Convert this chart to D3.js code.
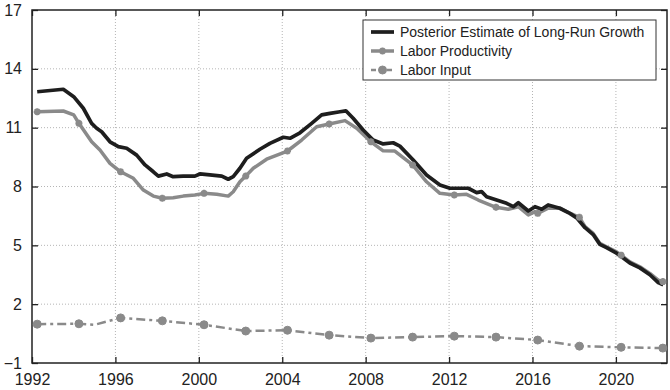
<!DOCTYPE html>
<html>
<head>
<meta charset="utf-8">
<script src="https://cdn.jsdelivr.net/npm/d3@7"></script>
<style>
  body { margin: 0; background: #fff; }
  text { font-family: "Liberation Sans", Arial, sans-serif; }
</style>
</head>
<body>
<svg id="chart" width="670" height="390"></svg>
<script>
// values: [year, percent]
const longRunGrowth = [
  [1992.25, 12.83], [1993.5, 12.96], [1994.0, 12.58], [1994.46, 11.99], [1994.86, 11.22],
  [1995.1, 10.97], [1995.34, 10.79], [1995.74, 10.28], [1996.14, 10.03], [1996.54, 9.95],
  [1997.02, 9.6], [1997.42, 9.1], [1997.82, 8.75], [1998.06, 8.53], [1998.46, 8.64],
  [1998.77, 8.5], [1999.25, 8.53], [1999.81, 8.53], [2000.05, 8.64], [2000.53, 8.59],
  [2001.1, 8.53], [2001.41, 8.37], [2001.65, 8.5], [2001.97, 8.93], [2002.29, 9.44],
  [2002.93, 9.9], [2003.41, 10.2], [2004.05, 10.51], [2004.37, 10.46], [2004.85, 10.74],
  [2005.41, 11.22], [2005.89, 11.65], [2006.29, 11.73], [2006.77, 11.81], [2007.05, 11.86],
  [2007.4, 11.48], [2007.88, 10.88], [2008.36, 10.37], [2008.84, 10.17], [2009.32, 10.23],
  [2009.64, 10.06], [2010.28, 9.35], [2010.92, 8.59], [2011.56, 8.08], [2012.04, 7.91],
  [2012.52, 7.91], [2012.92, 7.91], [2013.32, 7.69], [2013.56, 7.74], [2013.8, 7.48],
  [2014.28, 7.31], [2014.76, 7.14], [2015.08, 6.97], [2015.32, 7.17], [2015.8, 6.75],
  [2016.12, 6.97], [2016.44, 6.84], [2016.75, 7.06], [2017.31, 6.89], [2017.79, 6.63],
  [2018.12, 6.4], [2018.52, 5.9], [2018.91, 5.55], [2019.23, 5.05], [2019.55, 4.88],
  [2020.03, 4.6], [2020.27, 4.42], [2020.67, 4.1], [2021.15, 3.85], [2021.63, 3.5],
  [2022.03, 3.1], [2022.27, 2.98]
];

const laborProductivity = [
  [1992.25, 11.81], [1993.5, 11.85], [1994.0, 11.65], [1994.25, 11.22], [1994.86, 10.28],
  [1995.26, 9.86], [1995.74, 9.18], [1996.25, 8.75], [1996.86, 8.42], [1997.34, 7.82],
  [1997.82, 7.51], [1998.25, 7.4], [1998.77, 7.43], [1999.25, 7.51], [1999.81, 7.57],
  [2000.25, 7.65], [2000.86, 7.6], [2001.41, 7.51], [2001.65, 7.73], [2001.97, 8.24],
  [2002.25, 8.53], [2002.61, 8.93], [2003.25, 9.39], [2004.25, 9.81], [2004.93, 10.37],
  [2005.65, 11.05], [2006.25, 11.19], [2007.01, 11.36], [2007.57, 10.97], [2008.25, 10.28],
  [2008.84, 9.82], [2009.4, 9.81], [2010.25, 9.1], [2010.92, 8.24], [2011.56, 7.65],
  [2012.25, 7.57], [2012.84, 7.6], [2013.4, 7.31], [2014.25, 6.94], [2014.84, 6.84],
  [2015.32, 6.97], [2015.8, 6.55], [2016.12, 6.72], [2016.25, 6.63], [2016.75, 6.89],
  [2017.31, 6.9], [2017.79, 6.65], [2018.25, 6.43], [2018.52, 5.95], [2018.91, 5.61],
  [2019.23, 5.1], [2019.55, 4.93], [2020.03, 4.67], [2020.25, 4.5], [2020.67, 4.16],
  [2021.15, 3.91], [2021.63, 3.57], [2022.03, 3.23], [2022.25, 3.15]
];

const laborInput = [
  [1992.25, 0.98], [1994.25, 1.0], [1995.0, 0.95], [1996.25, 1.3], [1998.25, 1.15],
  [2000.25, 0.95], [2002.25, 0.63], [2004.25, 0.67], [2006.25, 0.42], [2008.25, 0.27],
  [2010.25, 0.32], [2012.25, 0.37], [2014.25, 0.32], [2016.25, 0.17], [2018.25, -0.14],
  [2020.25, -0.2], [2022.25, -0.24]
];

const markerYears = [1992.25, 1994.25, 1996.25, 1998.25, 2000.25, 2002.25, 2004.25, 2006.25,
  2008.25, 2010.25, 2012.25, 2014.25, 2016.25, 2018.25, 2020.25, 2022.25];

const xTicks = [1992, 1996, 2000, 2004, 2008, 2012, 2016, 2020];
const yTicks = [-1, 2, 5, 8, 11, 14, 17];
const seriesNames = ["Posterior Estimate of Long-Run Growth", "Labor Productivity", "Labor Input"];

const svg = d3.select("#chart");
const plotL = 32, plotR = 667, plotT = 10, plotB = 363;

const x = d3.scaleLinear().domain([1992, 2022.45]).range([plotL, plotR]);
const y = d3.scaleLinear().domain([-1, 17]).range([plotB, plotT]);

const gray = "#8a8a8a";
const dark = "#1e1e1e";

// grid
svg.append("g").selectAll("line")
  .data(xTicks.filter(t => t > 1992))
  .enter().append("line")
  .attr("x1", d => x(d)).attr("x2", d => x(d))
  .attr("y1", plotT).attr("y2", plotB)
  .attr("stroke", "#b5b5b5").attr("stroke-width", 1).attr("stroke-dasharray", "1,2");

svg.append("g").selectAll("line")
  .data(yTicks.filter(t => t > -1 && t < 17))
  .enter().append("line")
  .attr("x1", plotL).attr("x2", plotR)
  .attr("y1", d => y(d)).attr("y2", d => y(d))
  .attr("stroke", "#b5b5b5").attr("stroke-width", 1).attr("stroke-dasharray", "1,2");

// axes (ticks inside, on all four sides)
const tickLen = 6;
svg.append("g").attr("transform", `translate(0,${plotB})`)
  .call(d3.axisBottom(x).tickValues(xTicks).tickFormat(d3.format("d")).tickSizeInner(-tickLen).tickSizeOuter(0).tickPadding(11));
svg.append("g").attr("transform", `translate(0,${plotT})`)
  .call(d3.axisTop(x).tickValues(xTicks).tickFormat("").tickSizeInner(-tickLen).tickSizeOuter(0));
svg.append("g").attr("transform", `translate(${plotL},0)`)
  .call(d3.axisLeft(y).tickValues(yTicks).tickFormat(d => d < 0 ? "\u2212" + Math.abs(d) : d).tickSizeInner(-tickLen).tickSizeOuter(0).tickPadding(10));
svg.append("g").attr("transform", `translate(${plotR},0)`)
  .call(d3.axisRight(y).tickValues(yTicks).tickFormat("").tickSizeInner(-tickLen).tickSizeOuter(0));

svg.selectAll(".domain").remove();
svg.selectAll(".tick line").attr("stroke", "#222").attr("stroke-width", 1.3);
svg.selectAll(".tick text").attr("font-size", 16).attr("fill", "#222")
  .attr("font-family", "'Liberation Sans', Arial, sans-serif");

svg.append("rect")
  .attr("x", plotL).attr("y", plotT)
  .attr("width", plotR - plotL).attr("height", plotB - plotT)
  .attr("fill", "none").attr("stroke", "#222").attr("stroke-width", 1.5);

// lines
const line = d3.line().x(d => x(d[0])).y(d => y(d[1]));

svg.append("path").datum(laborInput)
  .attr("d", line).attr("fill", "none")
  .attr("stroke", gray).attr("stroke-width", 2.5).attr("stroke-dasharray", "9,4,3,4");

svg.append("path").datum(laborProductivity)
  .attr("d", line).attr("fill", "none")
  .attr("stroke", gray).attr("stroke-width", 3.5).attr("stroke-linejoin", "round");

svg.append("path").datum(longRunGrowth)
  .attr("d", line).attr("fill", "none")
  .attr("stroke", dark).attr("stroke-width", 3.7).attr("stroke-linejoin", "round");

// markers
const starPath = "M-3.5,0L3.5,0M-2.5,-2.5L2.5,2.5M-2.5,2.5L2.5,-2.5M0,-3.5L0,3.5";

svg.append("g").selectAll("path")
  .data(laborProductivity.filter(d => markerYears.includes(d[0])))
  .enter().append("path")
  .attr("d", starPath)
  .attr("transform", d => `translate(${x(d[0])},${y(d[1])})`)
  .attr("stroke", gray).attr("stroke-width", 2.2).attr("fill", "none");

svg.append("g").selectAll("circle")
  .data(laborInput.filter(d => markerYears.includes(d[0])))
  .enter().append("circle")
  .attr("cx", d => x(d[0])).attr("cy", d => y(d[1]))
  .attr("r", 4)
  .attr("fill", gray).attr("stroke", gray).attr("stroke-width", 1);

// legend
const legend = svg.append("g").attr("transform", "translate(363,20)");
legend.append("rect")
  .attr("width", 293).attr("height", 60)
  .attr("fill", "#fff").attr("stroke", "#333").attr("stroke-width", 1);

const rowY = [12, 31, 50];
legend.append("line").attr("x1", 8).attr("x2", 31).attr("y1", rowY[0]).attr("y2", rowY[0])
  .attr("stroke", dark).attr("stroke-width", 3.7);
legend.append("line").attr("x1", 8).attr("x2", 31).attr("y1", rowY[1]).attr("y2", rowY[1])
  .attr("stroke", gray).attr("stroke-width", 3.5);
legend.append("path").attr("d", starPath).attr("transform", `translate(19.5,${rowY[1]})`)
  .attr("stroke", gray).attr("stroke-width", 2.2).attr("fill", "none");
legend.append("line").attr("x1", 8).attr("x2", 31).attr("y1", rowY[2]).attr("y2", rowY[2])
  .attr("stroke", gray).attr("stroke-width", 2.5).attr("stroke-dasharray", "5,3");
legend.append("circle").attr("cx", 19.5).attr("cy", rowY[2]).attr("r", 4)
  .attr("fill", gray).attr("stroke", gray);

legend.selectAll("text.lbl")
  .data(seriesNames)
  .enter().append("text")
  .attr("class", "lbl")
  .attr("x", 37).attr("y", (d, i) => rowY[i] + 5)
  .attr("font-size", 14).attr("fill", "#222")
  .text(d => d);
</script>
</body>
</html>
